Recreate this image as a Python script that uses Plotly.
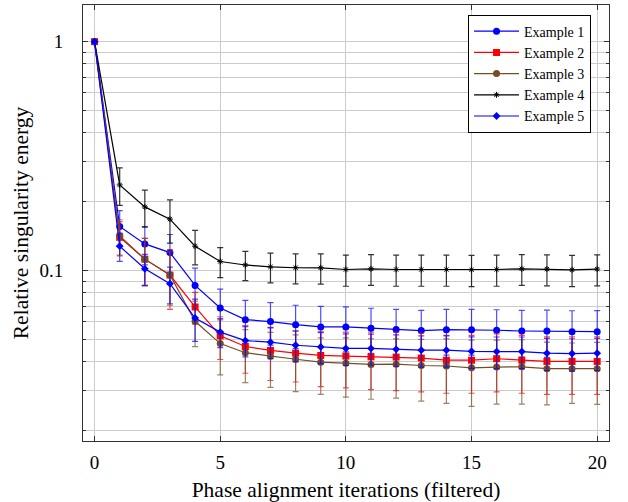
import plotly.graph_objects as go

iterations = list(range(21))

ex1 = [1.0, 0.156, 0.131, 0.120, 0.0863, 0.0688, 0.0612, 0.0600, 0.0582, 0.0569, 0.0569,
       0.0561, 0.0554, 0.0548, 0.0553, 0.0553, 0.0550, 0.0546, 0.0546, 0.0542, 0.0542]
ex1_err = [0.0, 0.027, 0.025, 0.024, 0.0164, 0.0144, 0.013, 0.0126, 0.0125, 0.013, 0.0126,
           0.0125, 0.0125, 0.0124, 0.0125, 0.0125, 0.0126, 0.0126, 0.0127, 0.0127, 0.0128]

ex2 = [1.0, 0.140, 0.1124, 0.0958, 0.0695, 0.0520, 0.0467, 0.0449, 0.0437, 0.0427, 0.0424,
       0.0421, 0.0420, 0.0416, 0.0407, 0.0407, 0.0413, 0.0407, 0.0402, 0.0402, 0.0402]
ex2_err = [0.0, 0.024, 0.026, 0.028, 0.011, 0.011, 0.011, 0.0117, 0.011, 0.0115, 0.0116,
           0.0118, 0.012, 0.012, 0.0115, 0.0115, 0.0117, 0.0115, 0.0113, 0.0113, 0.0113]

ex3 = [1.0, 0.142, 0.1124, 0.0958, 0.0602, 0.0481, 0.0439, 0.0424, 0.0411, 0.0399, 0.0395,
       0.0390, 0.0391, 0.0386, 0.0384, 0.0377, 0.0380, 0.0381, 0.0374, 0.0374, 0.0374]
ex3_err = [0.0, 0.025, 0.026, 0.025, 0.0135, 0.013, 0.0114, 0.0114, 0.0114, 0.011, 0.0114,
           0.0115, 0.0113, 0.0116, 0.012, 0.0121, 0.0118, 0.0119, 0.0114, 0.011, 0.0113]

ex4 = [1.0, 0.237, 0.190, 0.168, 0.128, 0.1098, 0.106, 0.104, 0.1031, 0.103, 0.1013,
       0.102, 0.1013, 0.1013, 0.1013, 0.101, 0.1013, 0.102, 0.1017, 0.101, 0.1017]
ex4_err = [0.0, 0.044, 0.035, 0.036, 0.022, 0.0165, 0.0155, 0.0155, 0.0155, 0.0155, 0.0157,
           0.0156, 0.0157, 0.0157, 0.0157, 0.0157, 0.0157, 0.0157, 0.0157, 0.0157, 0.0157]

ex5 = [1.0, 0.128, 0.102, 0.0878, 0.0622, 0.0540, 0.0496, 0.0488, 0.0473, 0.0465, 0.0458,
       0.0458, 0.0454, 0.0450, 0.0450, 0.0445, 0.0444, 0.0444, 0.0437, 0.0435, 0.0437]
ex5_err = [0.0, 0.018, 0.016, 0.016, 0.013, 0.0078, 0.0075, 0.0075, 0.0073, 0.0072, 0.0072,
           0.0071, 0.0071, 0.007, 0.007, 0.007, 0.007, 0.007, 0.007, 0.007, 0.007]

names = ["Example 1", "Example 2", "Example 3", "Example 4", "Example 5"]
series = [ex1, ex2, ex3, ex4, ex5]
errors = [ex1_err, ex2_err, ex3_err, ex4_err, ex5_err]
colors = ["#0000ff", "#ff0000", "#734d26", "#000000", "#0000ff"]
err_colors = ["rgba(0,0,255,0.7)", "rgba(255,0,0,0.7)", "rgba(115,77,38,0.7)",
              "rgba(0,0,0,0.8)", "rgba(0,0,255,0.7)"]
symbols = ["circle", "square", "circle", "asterisk-open", "diamond"]
sizes = [7, 7, 7, 5, 6]

FONT = "'Liberation Serif', 'DejaVu Serif', serif"

fig = go.Figure()
for name, y, e, c, ec, s, sz in zip(names, series, errors, colors, err_colors, symbols, sizes):
    marker = dict(symbol=s, size=sz, color=c, line=dict(width=1 if s == "asterisk-open" else 0, color=c))
    fig.add_trace(go.Scatter(
        x=iterations, y=y, name=name, mode="lines+markers",
        line=dict(color=c, width=1.2),
        marker=marker,
        error_y=dict(type="data", array=e, visible=True, color=ec, thickness=1.2, width=3),
    ))

fig.update_layout(
    width=628, height=502,
    margin=dict(l=83, r=19, t=4, b=60),
    paper_bgcolor="white", plot_bgcolor="white",
    font=dict(family=FONT, size=19, color="black"),
    showlegend=True,
    legend=dict(x=0.732, y=0.978, xanchor="left", yanchor="top",
                bordercolor="black", borderwidth=1, bgcolor="white",
                font=dict(family=FONT, size=14), tracegroupgap=0,
                itemwidth=45),
)
fig.update_xaxes(
    range=[-0.46, 20.47], dtick=5, tick0=0,
    showgrid=True, gridcolor="#cccccc", gridwidth=1,
    zeroline=False, showline=True, linecolor="#333333", linewidth=1, mirror="allticks",
    ticks="inside", ticklen=5, tickcolor="#333333", ticklabelstandoff=4,
    title=dict(text="Phase alignment iterations (filtered)", font=dict(size=21.5), standoff=10),
)
fig.update_yaxes(
    type="log", range=[-1.743, 0.16], dtick=1,
    showgrid=True, gridcolor="#cccccc", gridwidth=1,
    zeroline=False, showline=True, linecolor="#333333", linewidth=1, mirror="allticks",
    ticks="inside", ticklen=5, tickcolor="#333333", ticklabelstandoff=15,
    minor=dict(dtick="D1", showgrid=True, gridcolor="#cccccc", gridwidth=1,
               ticks="inside", ticklen=3, tickcolor="#333333"),
    title=dict(text="Relative singularity energy", font=dict(size=21.5), standoff=4),
)

fig.write_html("out.html")
